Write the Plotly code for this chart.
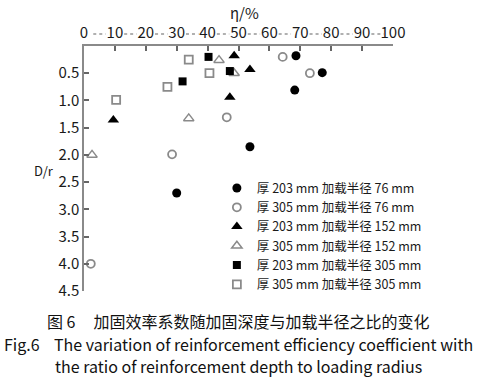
import plotly.graph_objects as go

# ---- data ----
s1_name = "厚 203 mm 加载半径 76 mm"
s1_eta = [30.0, 53.7, 68.2, 68.6, 77.1]
s1_dr = [2.70, 1.85, 0.81, 0.18, 0.49]

s2_name = "厚 305 mm 加载半径 76 mm"
s2_eta = [2.2, 28.5, 46.2, 64.3, 73.1]
s2_dr = [4.00, 1.99, 1.31, 0.20, 0.50]

s3_name = "厚 203 mm 加载半径 152 mm"
s3_eta = [9.5, 47.2, 53.7, 48.6]
s3_dr = [1.36, 0.94, 0.43, 0.18]

s4_name = "厚 305 mm 加载半径 152 mm"
s4_eta = [2.6, 33.9, 48.6, 43.7]
s4_dr = [2.00, 1.33, 0.50, 0.26]

s5_name = "厚 203 mm 加载半径 305 mm"
s5_eta = [31.9, 47.2, 40.3]
s5_dr = [0.65, 0.46, 0.20]

s6_name = "厚 305 mm 加载半径 305 mm"
s6_eta = [10.4, 27.0, 40.6, 33.9]
s6_dr = [0.99, 0.75, 0.50, 0.25]

x_ticks = [0, 10, 20, 30, 40, 50, 60, 70, 80, 90, 100]
y_ticks = [0.5, 1.0, 1.5, 2.0, 2.5, 3.0, 3.5, 4.0, 4.5]
y_ticktext = ["0.5", "1.0", "1.5", "2.0", "2.5", "3.0", "3.5", "4.0", "4.5"]

x_title = "η/%"
y_title = "D/r"
caption_1 = "图 6     加固效率系数随加固深度与加载半径之比的变化"
caption_2 = "Fig.6    The variation of reinforcement efficiency coefficient with"
caption_3 = "the ratio of reinforcement depth to loading radius"

FONT = "Noto Sans CJK SC, Noto Sans, sans-serif"
GRAY = "#8a8a8a"

fig = go.Figure()

def add(name, xs, ys, symbol, color, size, lw=0, lc=None):
    fig.add_trace(go.Scatter(
        x=xs, y=ys, mode="markers", name=name,
        marker=dict(symbol=symbol, color=color, size=size,
                    line=dict(width=lw, color=lc if lc else color)),
    ))

# draw open ones first so filled ones overlap
add(s2_name, s2_eta, s2_dr, "circle-open", GRAY, 8, 1.8, GRAY)
add(s4_name, s4_eta, s4_dr, "triangle-up-open", GRAY, 9, 1.5, GRAY)
add(s6_name, s6_eta, s6_dr, "square-open", GRAY, 8, 1.8, GRAY)
add(s1_name, s1_eta, s1_dr, "circle", "black", 9)
add(s3_name, s3_eta, s3_dr, "triangle-up", "black", 10)
add(s5_name, s5_eta, s5_dr, "square", "black", 8)

# reorder legend to reference order
order = [s1_name, s2_name, s3_name, s4_name, s5_name, s6_name]
for tr in fig.data:
    tr.legendrank = order.index(tr.name) + 1

# dotted leaders between x tick labels (as in the reference)
for a, b in zip(x_ticks[:-1], x_ticks[1:]):
    fig.add_shape(type="line", xref="x", yref="paper",
                  x0=a + 3.0, x1=b - 3.0, y0=1.049, y1=1.049,
                  line=dict(color="#b0b0b0", width=2, dash="dot"))

fig.update_xaxes(
    range=[0, 100], side="top", tickvals=x_ticks,
    showline=True, linecolor=GRAY, linewidth=1.5, mirror=False,
    ticks="inside", ticklen=5, tickcolor="#666", tickwidth=1.5,
    showgrid=False, zeroline=False,
    tickfont=dict(size=15, color="#1a1a1a", family=FONT),
)
fig.update_yaxes(
    range=[4.5, 0], autorange=False, tickvals=y_ticks, ticktext=y_ticktext,
    showline=True, linecolor=GRAY, linewidth=1.5,
    ticks="inside", ticklen=5, tickcolor="#666", tickwidth=1.5,
    showgrid=False, zeroline=False,
    tickfont=dict(size=15, color="#1a1a1a", family=FONT),
)

fig.add_annotation(text=x_title, xref="paper", yref="paper", x=0.52, y=1.135,
                   showarrow=False, xanchor="center", yanchor="middle",
                   font=dict(size=15, color="#1a1a1a", family=FONT))
fig.add_annotation(text=y_title, xref="paper", yref="paper", x=-0.13, y=0.49,
                   showarrow=False, xanchor="center", yanchor="middle",
                   font=dict(size=13, color="#1a1a1a", family=FONT))

for txt, ypx in [(caption_1, 321), (caption_2, 344), (caption_3, 366)]:
    fig.add_annotation(text=txt, xref="paper", yref="paper",
                       x=(238 - 84) / 309, y=1 - (ypx - 46) / 245,
                       showarrow=False, xanchor="center", yanchor="middle",
                       font=dict(size=16, color="#111", family=FONT))

fig.update_layout(
    width=479, height=377,
    margin=dict(l=84, r=86, t=46, b=86),
    paper_bgcolor="white", plot_bgcolor="white",
    font=dict(family=FONT, color="#1a1a1a"),
    legend=dict(x=0.43, y=0.48, xanchor="left", yanchor="top",
                bgcolor="rgba(0,0,0,0)", font=dict(size=12.5, family=FONT),
                tracegroupgap=0, itemwidth=30),
    showlegend=True,
)

fig.write_html("out.html", config={"displayModeBar": False},
               post_script="document.body.style.margin='0';")
